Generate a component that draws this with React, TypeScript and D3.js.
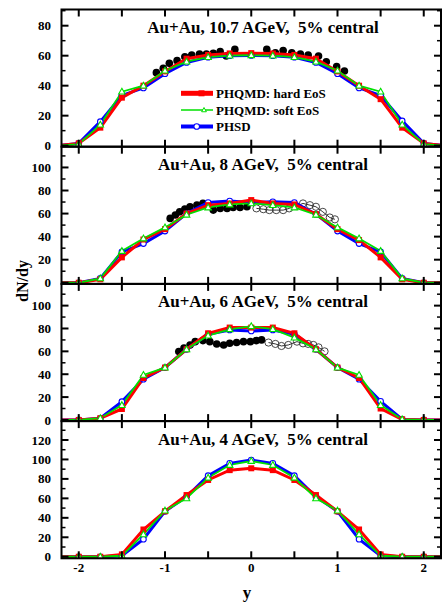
import React from "react";
import * as d3 from "d3";

const W = 444;
const H = 602;

// rapidity grid (model curves)
const yGrid = [-2.25, -2, -1.75, -1.5, -1.25, -1, -0.75, -0.5, -0.25, 0, 0.25, 0.5, 0.75, 1, 1.25, 1.5, 1.75, 2, 2.25];

// 10.7 AGeV
const hard10 = [0, 1.5, 12, 32, 40, 49.5, 58, 60.5, 61.5, 61.7, 61.5, 60.5, 58, 49.5, 40, 31, 12, 1.5, 0];
const soft10 = [0, 1, 14, 36, 40, 50, 56, 59, 60, 60.3, 60, 59, 56, 50, 40, 36, 14, 1, 0];
const phsd10 = [0, 1.5, 16, 33.5, 38.5, 48, 55.5, 59, 60, 60.2, 60, 59, 55.5, 48, 38.5, 33.5, 16.5, 1.5, 0];
const exp10Y = [-1.1, -1.02, -0.95, -0.86, -0.77, -0.69, -0.6, -0.52, -0.44, -0.36, -0.29, -0.19, 0.18, 0.28, 0.37, 0.47, 0.57, 0.66, 0.78, 0.87, 0.99, 1.08];
const exp10V = [48.7, 51.6, 54.9, 56.7, 59.3, 60.5, 61.1, 61.1, 61.6, 62.7, 59.8, 64.2, 64.2, 62, 63.4, 62, 61.1, 60.5, 59.8, 56, 52.7, 49.8];

// 8 AGeV
const hard8 = [0, 0, 3, 22, 37.5, 46.5, 60, 67.3, 68.7, 71.7, 68.8, 67.9, 59.5, 46.5, 37, 22, 3, 0, 0];
const soft8 = [0, 0, 3.8, 27.5, 38.4, 48, 59, 65.3, 67.9, 68.8, 67.3, 65.3, 59, 48, 38.4, 27.5, 3.8, 0, 0];
const phsd8 = [0, 0, 3.8, 26.7, 34, 44.8, 60, 69.6, 70.8, 69.6, 70.2, 69.6, 59.5, 44.8, 34, 26.7, 3.8, 0, 0];
const exp8fY = [-0.94, -0.88, -0.83, -0.77, -0.71, -0.63, -0.56, -0.44, -0.36, -0.28, -0.21, -0.13, -0.05];
const exp8fV = [55.8, 58.7, 61.5, 64, 65.9, 67.3, 68.8, 63, 64.5, 64.5, 65.3, 65.3, 65.9];
const exp8oY = [0.06, 0.14, 0.21, 0.29, 0.37, 0.44, 0.52, 0.6, 0.68, 0.75, 0.83, 0.91, 0.97];
const exp8oV = [64.5, 63.8, 63, 63, 63, 64.5, 66.5, 68.8, 67.3, 65.9, 61.5, 56.6, 55];

// 6 AGeV
const hard6 = [0, 0, 1.5, 9.6, 36.7, 45.8, 61.8, 75.8, 80.8, 80.8, 80.8, 75.8, 61.8, 45.8, 36.7, 10, 0.5, 0, 0];
const soft6 = [0, 0, 1.5, 13, 39.4, 45.8, 61.8, 73.8, 79.3, 82, 79.5, 72, 61.8, 45.8, 39.4, 13, 0.5, 0, 0];
const phsd6 = [0, 0, 1.5, 16, 35.6, 45.8, 61.8, 75, 78.7, 77.8, 78.7, 75, 61.8, 45.8, 35.6, 16.3, 0.5, 0, 0];
const exp6fY = [-0.84, -0.78, -0.71, -0.65, -0.56, -0.48, -0.4, -0.32, -0.25, -0.17, -0.09, -0.01, 0.06, 0.12];
const exp6fV = [59.8, 63, 65.6, 68.5, 69.4, 68.5, 66.5, 65.6, 67.1, 67.7, 68.5, 68.5, 69.4, 70];
const exp6oY = [0.2, 0.28, 0.35, 0.43, 0.53, 0.6, 0.66, 0.72, 0.78, 0.85];
const exp6oV = [67.7, 66.5, 64.7, 65.6, 68.5, 67, 66.5, 65.6, 63.5, 60];

// 4 AGeV
const hard4 = [0, 0, 0, 2.4, 28, 46.7, 63.4, 78.9, 89, 90.9, 89, 78.9, 63.4, 46.7, 28, 2.4, 0, 0, 0];
const soft4 = [0, 0, 0, 1, 23, 47.4, 60, 81.2, 94.3, 98.4, 94.3, 81.2, 60, 47.4, 23, 1, 0, 0, 0];
const phsd4 = [0, 0, 0, 1, 18, 46.7, 61.7, 83.3, 96, 99.4, 96, 83.3, 61.7, 46.7, 18, 1, 0, 0, 0];

const titles = ["Au+Au, 10.7 AGeV,  5% central", "Au+Au, 8 AGeV,  5% central", "Au+Au, 6 AGeV,  5% central", "Au+Au, 4 AGeV,  5% central"];
const yTickSets = [[0, 20, 40, 60, 80], [0, 20, 40, 60, 80, 100], [0, 20, 40, 60, 80, 100], [0, 20, 40, 60, 80, 100, 120]];
const yDomains: [number, number][] = [[-0.7, 90.8], [-1, 118], [-1, 119], [-1.6, 139.4]];
const xTicks = [-2, -1, 0, 1, 2];
const legendLabels = ["PHQMD: hard EoS", "PHQMD: soft EoS", "PHSD"];

const panels = [
  { hard: hard10, soft: soft10, phsd: phsd10, fY: exp10Y, fV: exp10V, oY: [] as number[], oV: [] as number[] },
  { hard: hard8, soft: soft8, phsd: phsd8, fY: exp8fY, fV: exp8fV, oY: exp8oY, oV: exp8oV },
  { hard: hard6, soft: soft6, phsd: phsd6, fY: exp6fY, fV: exp6fV, oY: exp6oY, oV: exp6oV },
  { hard: hard4, soft: soft4, phsd: phsd4, fY: [] as number[], fV: [] as number[], oY: [] as number[], oV: [] as number[] },
];

const L = 61.5, R = 441, TOP = 9.5, PH = 137.2;
const FONT = "'Liberation Serif', 'Times New Roman', serif";
const RED = "#ff0000", GREEN = "#00e000", BLUE = "#0000ff";

const x = d3.scaleLinear().domain([-2.2, 2.2]).range([L, R]);
const xMinor = d3.range(-2, 2.01, 0.5);

function triPath(cx: number, cy: number, s: number) {
  return `M${cx},${cy - s}L${cx + s * 0.95},${cy + s * 0.7}L${cx - s * 0.95},${cy + s * 0.7}Z`;
}

export default function App() {
  return (
    <svg width={W} height={H} style={{ position: "absolute", left: 0, top: 0, background: "#fff" }} fontFamily={FONT} fontWeight="bold">
      <defs>
        {panels.map((_, i) => (
          <clipPath id={`clip${i}`} key={i}>
            <rect x={L} y={TOP + i * PH} width={R - L} height={PH} />
          </clipPath>
        ))}
      </defs>
      {panels.map((p, i) => {
        const t0 = TOP + i * PH;
        const y = d3.scaleLinear().domain(yDomains[i]).range([t0 + PH, t0]);
        const line = d3.line<number>().x((_, k) => x(yGrid[k])).y((v) => y(v));
        const expLine = d3.line<number>().x((_, k) => x(p.oY[k])).y((v) => y(v));
        const markIdx = yGrid.map((g, k) => k).filter((k) => Math.abs(yGrid[k]) <= 2.01);
        const ticks = yTickSets[i];
        const minors = d3.range(0, yDomains[i][1], 10).filter((v) => !ticks.includes(v));
        return (
          <g key={i}>
            <g clipPath={`url(#clip${i})`}>
              {/* experimental */}
              {p.oY.length > 0 && <path d={expLine(p.oV) || ""} fill="none" stroke="#000" strokeWidth={0.8} />}
              {p.fY.map((v, k) => (
                <circle key={"f" + k} cx={x(v)} cy={y(p.fV[k])} r={3.8} fill="#000" />
              ))}
              {p.oY.map((v, k) => (
                <circle key={"o" + k} cx={x(v)} cy={y(p.oV[k])} r={3.6} fill="none" stroke="#333" strokeWidth={0.9} />
              ))}
              {/* model curves */}
              <path d={line(p.phsd) || ""} fill="none" stroke={BLUE} strokeWidth={3} />
              <path d={line(p.hard) || ""} fill="none" stroke={RED} strokeWidth={3} />
              <path d={line(p.soft) || ""} fill="none" stroke={GREEN} strokeWidth={1.8} />
              {markIdx.map((k) => (
                <circle key={"b" + k} cx={x(yGrid[k])} cy={y(p.phsd[k])} r={2.8} fill="#fff" stroke={BLUE} strokeWidth={1.1} />
              ))}
              {markIdx.map((k) => (
                <rect key={"r" + k} x={x(yGrid[k]) - 3} y={y(p.hard[k]) - 3} width={6} height={6} fill={RED} />
              ))}
              {markIdx.map((k) => (
                <path key={"g" + k} d={triPath(x(yGrid[k]), y(p.soft[k]), 3.4)} fill="#fff" stroke={GREEN} strokeWidth={1.1} />
              ))}
            </g>
            {/* frame */}
            <rect x={L} y={t0} width={R - L} height={PH} fill="none" stroke="#000" strokeWidth={2} />
            {xMinor.map((v) => (
              <g key={"xt" + v}>
                <line x1={x(v)} x2={x(v)} y1={t0 + PH} y2={t0 + PH - 7} stroke="#000" strokeWidth={2} />
                <line x1={x(v)} x2={x(v)} y1={t0} y2={t0 + 7} stroke="#000" strokeWidth={2} />
              </g>
            ))}
            {ticks.map((v) => (
              <g key={"yt" + v}>
                <line x1={L} x2={L + 7} y1={y(v)} y2={y(v)} stroke="#000" strokeWidth={2} />
                <line x1={R} x2={R - 7} y1={y(v)} y2={y(v)} stroke="#000" strokeWidth={2} />
                <text x={51} y={y(v)} dy="0.35em" textAnchor="end" fontSize={13}>{v}</text>
              </g>
            ))}
            {minors.map((v) => (
              <g key={"ym" + v}>
                <line x1={L} x2={L + 4} y1={y(v)} y2={y(v)} stroke="#000" strokeWidth={1.5} />
                <line x1={R} x2={R - 4} y1={y(v)} y2={y(v)} stroke="#000" strokeWidth={1.5} />
              </g>
            ))}
            <text x={263} y={t0 + 17.5} dy="0.35em" textAnchor="middle" fontSize={17} style={{ whiteSpace: "pre" }}>{titles[i]}</text>
          </g>
        );
      })}
      {/* legend */}
      <g>
        <line x1={181} x2={213} y1={93.3} y2={93.3} stroke={RED} strokeWidth={5} />
        <rect x={198.5} y={90.3} width={6} height={6} fill={RED} />
        <text x={216} y={93.3} dy="0.35em" fontSize={13}>{legendLabels[0]}</text>
        <line x1={181} x2={213} y1={110} y2={110} stroke={GREEN} strokeWidth={1.5} />
        <path d={triPath(204, 110, 2.5)} fill="#fff" stroke={GREEN} strokeWidth={1} />
        <text x={216} y={110} dy="0.35em" fontSize={13}>{legendLabels[1]}</text>
        <line x1={181} x2={213} y1={126.5} y2={126.5} stroke={BLUE} strokeWidth={4} />
        <circle cx={196.7} cy={126.5} r={2.8} fill="#fff" stroke={BLUE} strokeWidth={1.1} />
        <text x={216} y={126.5} dy="0.35em" fontSize={13}>{legendLabels[2]}</text>
      </g>
      {/* x axis labels */}
      {xTicks.map((v) => (
        <text key={"xl" + v} x={x(v)} y={567} dy="0.35em" textAnchor="middle" fontSize={13}>{v}</text>
      ))}
      <text x={247} y={592} dy="0.35em" textAnchor="middle" fontSize={17}>y</text>
      <text transform="translate(22,281) rotate(-90)" dy="0.35em" textAnchor="middle" fontSize={16}>dN/dy</text>
    </svg>
  );
}
